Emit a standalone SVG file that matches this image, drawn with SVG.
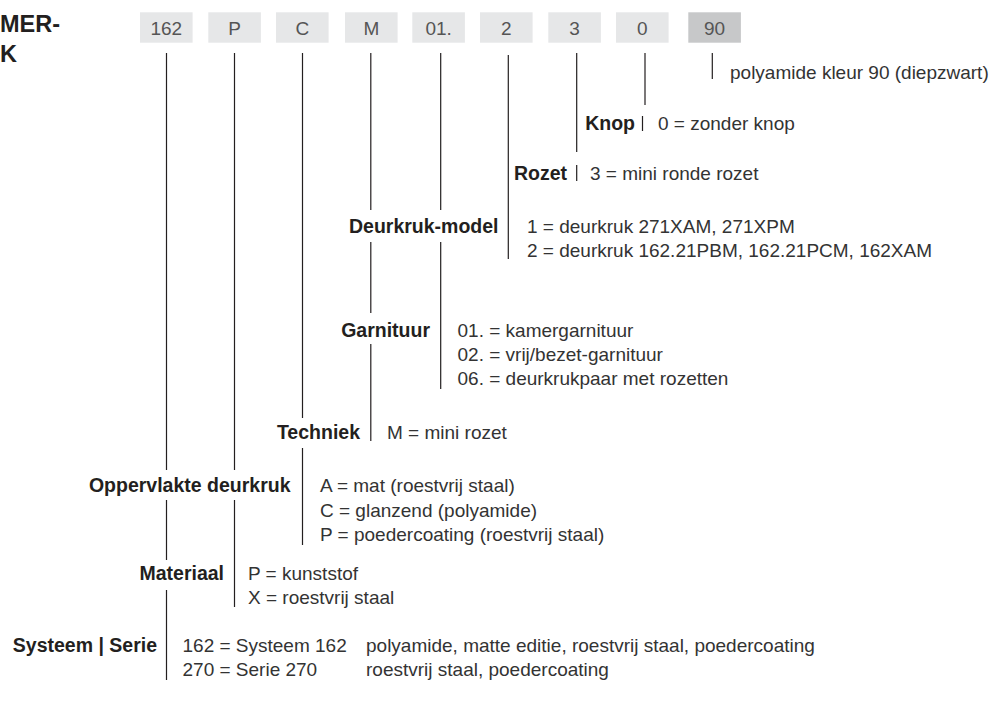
<svg xmlns="http://www.w3.org/2000/svg" width="992" height="707" viewBox="0 0 992 707">
<style>
.box{fill:#e6e7e8}
.box90{fill:#c7c8c9}
.bt{font-family:"Liberation Sans",Arial,sans-serif;font-size:19px;fill:#555;text-anchor:middle}
.lbl{font-family:"Liberation Sans",Arial,sans-serif;font-size:19.5px;font-weight:bold;fill:#231f20;text-anchor:end}
.txt{font-family:"Liberation Sans",Arial,sans-serif;font-size:19px;fill:#333}
.ttl{font-family:"Liberation Sans",Arial,sans-serif;font-size:23.5px;font-weight:bold;fill:#231f20}
.ln{stroke:#231f20;stroke-width:1.2;fill:none}
</style>
<rect width="992" height="707" fill="#fff"/>
<g id="title">
<text class="ttl" x="0" y="31.5">MER-</text>
<text class="ttl" x="0" y="62">K</text>
</g>
<g id="code">
<g id="box-162"><rect class="box" x="140" y="12.3" width="52.6" height="30.4"/><text class="bt" x="166.3" y="35">162</text></g>
<g id="box-P"><rect class="box" x="208.3" y="12.3" width="52.6" height="30.4"/><text class="bt" x="234.6" y="35">P</text></g>
<g id="box-C"><rect class="box" x="276" y="12.3" width="52.6" height="30.4"/><text class="bt" x="302.3" y="35">C</text></g>
<g id="box-M"><rect class="box" x="345" y="12.3" width="52.6" height="30.4"/><text class="bt" x="371.3" y="35">M</text></g>
<g id="box-01"><rect class="box" x="412.3" y="12.3" width="52.6" height="30.4"/><text class="bt" x="438.6" y="35">01.</text></g>
<g id="box-2"><rect class="box" x="480" y="12.3" width="52.6" height="30.4"/><text class="bt" x="506.3" y="35">2</text></g>
<g id="box-3"><rect class="box" x="548.3" y="12.3" width="52.6" height="30.4"/><text class="bt" x="574.6" y="35">3</text></g>
<g id="box-0"><rect class="box" x="616" y="12.3" width="52.6" height="30.4"/><text class="bt" x="642.3" y="35">0</text></g>
<g id="box-90"><rect class="box90" x="688.3" y="12.3" width="52.6" height="30.4"/><text class="bt" x="714.6" y="35">90</text></g>
</g>
<g id="connectors" class="ln">
<path d="M166.5 53V470M166.5 500V560M166.5 590V680"/>
<path d="M234.5 53V470M234.5 500V607"/>
<path d="M302.5 53V418M302.5 448V545"/>
<path d="M370.8 53V210M370.8 242V313M370.8 344V441"/>
<path d="M440.7 53V210M440.7 242V389"/>
<path d="M508.3 55V259"/>
<path d="M576.7 53V152M576.7 165V181"/>
<path d="M645 53V105M642.5 116V131"/>
<path d="M712.3 53V79"/>
</g>
<g id="kleur">
<text class="txt" x="730" y="79">polyamide kleur 90 (diepzwart)</text>
</g>
<g id="knop">
<text class="lbl" x="635" y="130">Knop</text>
<text class="txt" x="658" y="130">0 = zonder knop</text>
</g>
<g id="rozet">
<text class="lbl" x="567" y="180">Rozet</text>
<text class="txt" x="590" y="180">3 = mini ronde rozet</text>
</g>
<g id="deurkruk-model">
<text class="lbl" x="498.5" y="233">Deurkruk-model</text>
<text class="txt" x="527" y="233">1 = deurkruk 271XAM, 271XPM</text>
<text class="txt" x="527" y="257">2 = deurkruk 162.21PBM, 162.21PCM, 162XAM</text>
</g>
<g id="garnituur">
<text class="lbl" x="430" y="337">Garnituur</text>
<text class="txt" x="457.5" y="337">01. = kamergarnituur</text>
<text class="txt" x="457.5" y="361">02. = vrij/bezet-garnituur</text>
<text class="txt" x="457.5" y="385">06. = deurkrukpaar met rozetten</text>
</g>
<g id="techniek">
<text class="lbl" x="360" y="439">Techniek</text>
<text class="txt" x="387" y="439">M = mini rozet</text>
</g>
<g id="oppervlakte">
<text class="lbl" x="290.5" y="492">Oppervlakte deurkruk</text>
<text class="txt" x="320" y="492">A = mat (roestvrij staal)</text>
<text class="txt" x="320" y="516.5">C = glanzend (polyamide)</text>
<text class="txt" x="320" y="541">P = poedercoating (roestvrij staal)</text>
</g>
<g id="materiaal">
<text class="lbl" x="224" y="580">Materiaal</text>
<text class="txt" x="248" y="580">P = kunststof</text>
<text class="txt" x="248" y="604">X = roestvrij staal</text>
</g>
<g id="systeem">
<text class="lbl" x="157" y="652">Systeem | Serie</text>
<text class="txt" x="182.5" y="652">162 = Systeem 162</text>
<text class="txt" x="366" y="652">polyamide, matte editie, roestvrij staal, poedercoating</text>
<text class="txt" x="182.5" y="676">270 = Serie 270</text>
<text class="txt" x="366" y="676">roestvrij staal, poedercoating</text>
</g>
</svg>
